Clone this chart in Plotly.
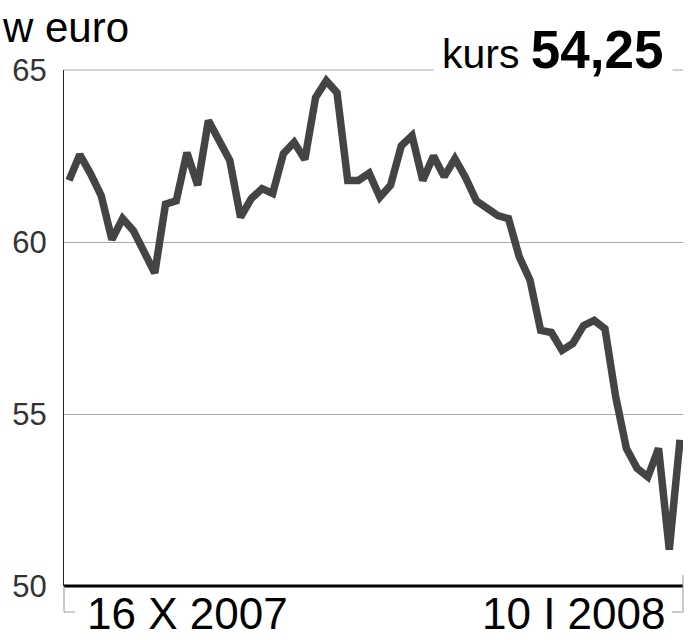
import plotly.graph_objects as go

# -------------------- DATA --------------------
days = list(range(58))
kurs = [61.79, 62.54, 61.99, 61.35, 60.07, 60.68, 60.33, 59.7, 59.1, 61.1,
        61.2, 62.6, 61.65, 63.53, 63.0, 62.37, 60.72, 61.26, 61.55, 61.41,
        62.57, 62.9, 62.4, 64.2, 64.69, 64.34, 61.79, 61.79, 62.0, 61.3,
        61.65, 62.8, 63.09, 61.79, 62.5, 61.9, 62.42, 61.87, 61.2, 61.0,
        60.77, 60.68, 59.57, 58.9, 57.43, 57.37, 56.85, 57.05, 57.57, 57.72,
        57.48, 55.5, 54.0, 53.42, 53.17, 54.0, 51.06, 54.25]
y_ticks = [50, 55, 60, 65]
date_first = '16 X 2007'
date_last = '10 I 2008'
last_value = '54,25'

FONT = 'Liberation Sans, Arial, sans-serif'

# -------------------- CHART --------------------
fig = go.Figure()
fig.add_trace(go.Scatter(x=days, y=kurs, mode='lines',
                         line=dict(color='#444444', width=7.5),
                         hoverinfo='skip', showlegend=False))

fig.update_xaxes(range=[-0.47, 57.28], showgrid=False, zeroline=False,
                 showticklabels=False, showline=False, automargin=False)
fig.update_yaxes(range=[50, 65], tickvals=y_ticks, showgrid=True,
                 gridcolor='#aaaaaa', gridwidth=1, zeroline=False,
                 showline=True, linecolor='#222222', linewidth=1,
                 ticks='', ticklabelstandoff=10, automargin=False,
                 tickfont=dict(family=FONT, size=31, color='#333333'))

# top gridline (dropped by plotly at the range edge), bottom axis, bracket ticks
fig.add_shape(type='line', xref='paper', yref='paper', x0=0, x1=1, y0=1, y1=1,
              line=dict(color='#aaaaaa', width=1), layer='below')
fig.add_shape(type='line', xref='paper', yref='paper', x0=0, x1=1, y0=0, y1=0,
              line=dict(color='black', width=3))
fig.add_shape(type='path', xref='paper', yref='paper',
              path='M 0,0 L 0,-0.0504 L 0.0178,-0.0504',
              line=dict(color='#999999', width=1))
fig.add_shape(type='path', xref='paper', yref='paper',
              path='M 1,0.0213 L 1,-0.0504 L 0.982,-0.0504',
              line=dict(color='#999999', width=1))

# texts
fig.add_annotation(text='w euro', xref='paper', yref='paper', x=-0.1034, y=1.083,
                   xanchor='left', yanchor='middle', showarrow=False,
                   font=dict(family=FONT, size=42, color='black'))
fig.add_annotation(text='kurs <b style="font-size:53px">' + last_value + '</b>',
                   xref='paper', yref='paper', x=0.984, y=1.039,
                   xanchor='right', yanchor='middle', showarrow=False,
                   bgcolor='white', borderpad=8,
                   font=dict(family=FONT, size=41, color='black'))
fig.add_annotation(text=date_first, xref='paper', yref='paper', x=0.034, y=-0.054,
                   xanchor='left', yanchor='middle', showarrow=False,
                   font=dict(family=FONT, size=44, color='black'))
fig.add_annotation(text=date_last, xref='paper', yref='paper', x=0.976, y=-0.054,
                   xanchor='right', yanchor='middle', showarrow=False,
                   font=dict(family=FONT, size=44, color='black'))

fig.update_layout(width=696, height=640,
                  margin=dict(l=64, r=13, t=70, b=54, autoexpand=False),
                  plot_bgcolor='white', paper_bgcolor='white')

# page has a default body margin; remove it so the figure sits at 0,0
fig.write_html("out.html", config={'displayModeBar': False},
               post_script="document.body.style.margin='0';")
